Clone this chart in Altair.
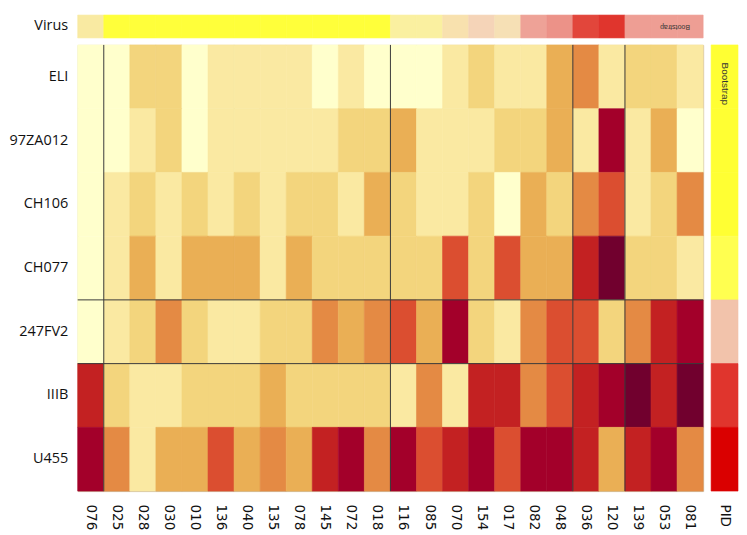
import altair as alt
import pandas as pd

# ---------------- data ----------------
columns = ["076", "025", "028", "030", "010", "136", "040", "135", "078", "145", "072", "018",
           "116", "085", "070", "154", "017", "082", "048", "036", "120", "139", "053", "081"]
viruses = ["ELI", "97ZA012", "CH106", "CH077", "247FV2", "IIIB", "U455"]

lv_ELI     = [1, 1, 3, 3, 1, 2, 2, 2, 2, 1, 2, 1, 1, 1, 2, 3, 2, 2, 4, 5, 2, 3, 3, 2]
lv_97ZA012 = [1, 1, 2, 3, 1, 2, 2, 2, 2, 2, 3, 3, 4, 2, 2, 2, 3, 3, 4, 2, 8, 2, 4, 1]
lv_CH106   = [1, 2, 3, 2, 3, 2, 3, 2, 3, 3, 2, 4, 3, 2, 2, 3, 1, 4, 3, 5, 6, 2, 3, 5]
lv_CH077   = [1, 2, 4, 2, 4, 4, 4, 2, 4, 3, 3, 3, 3, 3, 6, 3, 6, 4, 4, 7, 9, 3, 3, 2]
lv_247FV2  = [1, 2, 3, 5, 3, 2, 2, 3, 3, 5, 4, 5, 6, 4, 8, 3, 2, 5, 6, 6, 3, 5, 7, 8]
lv_IIIB    = [7, 3, 2, 2, 3, 3, 3, 4, 3, 3, 3, 3, 2, 5, 2, 7, 7, 5, 6, 7, 8, 9, 7, 9]
lv_U455    = [8, 5, 2, 4, 4, 6, 4, 5, 4, 7, 8, 5, 8, 6, 7, 8, 6, 8, 8, 7, 4, 7, 8, 5]
levels = [lv_ELI, lv_97ZA012, lv_CH106, lv_CH077, lv_247FV2, lv_IIIB, lv_U455]

level_values = [1, 2, 3, 4, 5, 6, 7, 8, 9]
level_colors = ["#FFFFCC", "#FAE9A2", "#F3D57D", "#EAAF55", "#E48A44",
                "#DB4E30", "#C32122", "#A3002A", "#71002E"]

virus_colors = ["#F9EAA2"] + ["#FFFF3A"] * 11 + ["#FAF0A0", "#FAF0A0", "#F8E1AE", "#F5D4B8",
                "#F6E0B5", "#EEA297", "#EC9288", "#E2463B", "#E0352D",
                "#EE9E94", "#EE9E94", "#EE9E94"]
pid_colors = ["#FFFF33", "#FFFF33", "#FFFF33", "#FFFF50", "#F2C3AB", "#E0352D", "#DA0000"]

col_breaks = ["076", "018", "048", "120"]
row_breaks = ["CH077", "247FV2"]

# ---------------- tables ----------------
heat_df = pd.DataFrame(
    [{"virus": v, "col": c, "level": levels[i][j]}
     for i, v in enumerate(viruses) for j, c in enumerate(columns)]
)
virus_df = pd.DataFrame({"col": columns, "row": ["Virus"] * len(columns), "vcolor": virus_colors})
pid_df = pd.DataFrame({"virus": viruses, "col": ["PID"] * len(viruses), "pcolor": pid_colors})

# ---------------- scales / axes ----------------
x_scale = alt.Scale(domain=columns, paddingInner=0, paddingOuter=0)
y_scale = alt.Scale(domain=viruses, paddingInner=0, paddingOuter=0)
lvl_scale = alt.Scale(domain=level_values, range=level_colors)

y_axis = alt.Axis(title=None, ticks=False, domain=False, labelFont="Open Sans",
                  labelFontSize=14.5, labelPadding=10, labelColor="#111111",
                  minExtent=69, maxExtent=69)
x_axis = alt.Axis(title=None, ticks=False, domain=False, labelAngle=90,
                  labelFont="DejaVu Sans", labelFontSize=13.5, labelPadding=13,
                  labelColor="#111111")

# ---------------- heatmap ----------------
heat = alt.Chart(heat_df).mark_rect(strokeWidth=0.6).encode(
    x=alt.X("col:N", scale=x_scale, axis=x_axis),
    y=alt.Y("virus:N", scale=y_scale, axis=y_axis),
    color=alt.Color("level:O", scale=lvl_scale, legend=None),
    stroke=alt.Stroke("level:O", scale=lvl_scale, legend=None),
)
vrules = alt.Chart(pd.DataFrame({"col": col_breaks})).mark_rule(
    color="#3a3a3a", strokeWidth=1).encode(
    x=alt.X("col:N", bandPosition=1, scale=x_scale, axis=x_axis))
hrules = alt.Chart(pd.DataFrame({"virus": row_breaks})).mark_rule(
    color="#3a3a3a", strokeWidth=1).encode(
    y=alt.Y("virus:N", bandPosition=1, scale=y_scale, axis=y_axis))

heat_layer = alt.layer(heat, vrules, hrules).properties(
    width=628, height=448,
    view=alt.ViewBackground(stroke="#CDBB9F", strokeWidth=1),
)

# ---------------- virus annotation row ----------------
virus_rect = alt.Chart(virus_df).mark_rect(strokeWidth=0.6).encode(
    x=alt.X("col:N", scale=x_scale, axis=None),
    y=alt.Y("row:N", axis=y_axis),
    color=alt.Color("vcolor:N", scale=None),
    stroke=alt.Stroke("vcolor:N", scale=None),
)
virus_text = alt.Chart(pd.DataFrame({"col": ["053"], "row": ["Virus"], "label": ["Bootstrap"]})).mark_text(
    angle=180, fontSize=7, dx=-11, font="Liberation Sans", color="#333333").encode(
    x=alt.X("col:N", scale=x_scale, axis=None),
    y=alt.Y("row:N", axis=y_axis),
    text="label:N",
)
virus_layer = alt.layer(virus_rect, virus_text).properties(width=628, height=23)

# ---------------- PID annotation column ----------------
pid_rect = alt.Chart(pid_df).mark_rect(strokeWidth=0.6).encode(
    x=alt.X("col:N", axis=x_axis, scale=alt.Scale(paddingInner=0, paddingOuter=0)),
    y=alt.Y("virus:N", scale=y_scale, axis=None),
    color=alt.Color("pcolor:N", scale=None),
    stroke=alt.Stroke("pcolor:N", scale=None),
)
pid_text = alt.Chart(pd.DataFrame({"col": ["PID"], "virus": ["ELI"], "label": ["Bootstrap"]})).mark_text(
    angle=90, fontSize=10, dx=7, font="Liberation Sans", color="#333333").encode(
    x=alt.X("col:N", axis=x_axis, scale=alt.Scale(paddingInner=0, paddingOuter=0)),
    y=alt.Y("virus:N", scale=y_scale, axis=None),
    text="label:N",
)
pid_layer = alt.layer(pid_rect, pid_text).properties(width=27, height=448)

chart = alt.vconcat(
    virus_layer,
    alt.hconcat(heat_layer, pid_layer, spacing=6),
    spacing=5,
).properties(
    padding={"left": 0, "top": 5, "right": 0, "bottom": 0}
).configure_view(strokeWidth=0)

chart.save("out.html", embed_options={"renderer": "svg", "actions": False})
